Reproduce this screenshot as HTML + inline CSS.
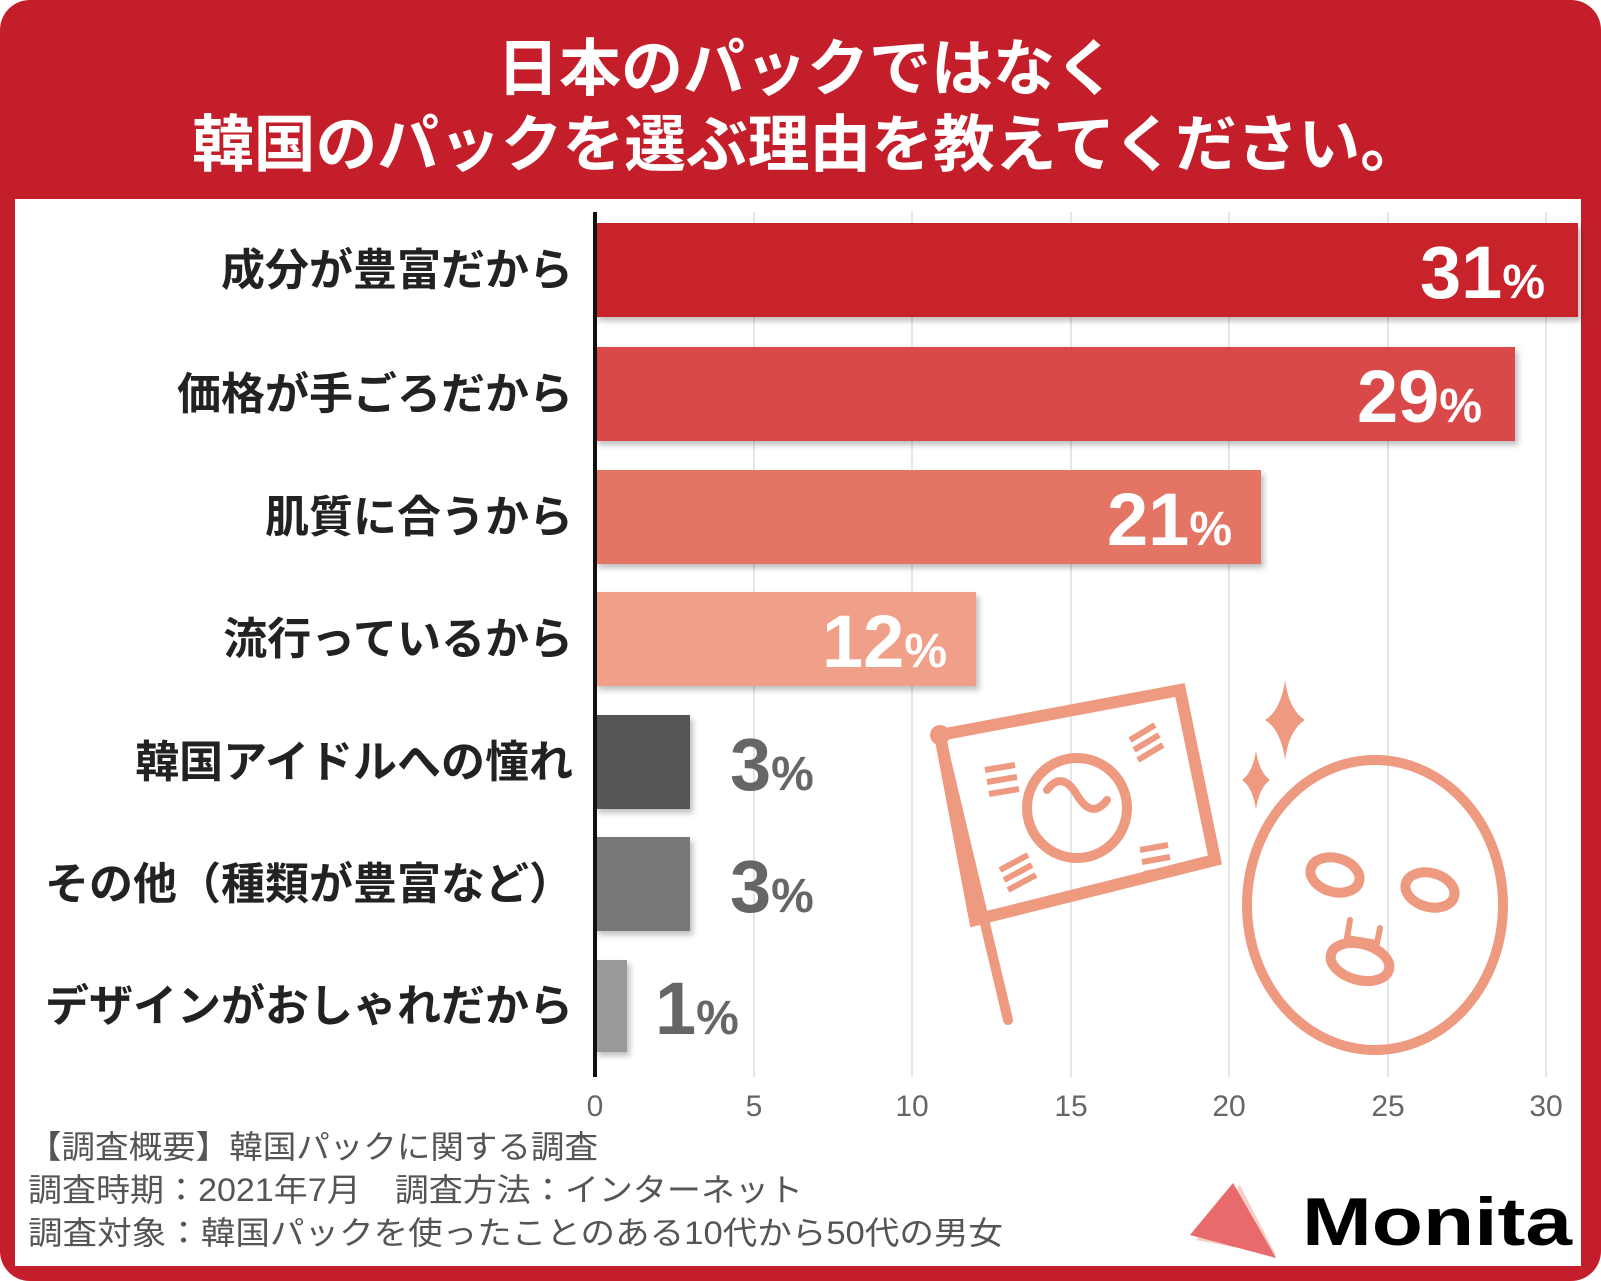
<!DOCTYPE html>
<html><head><meta charset="utf-8"><style>
html,body{margin:0;padding:0;background:#fff}
svg{display:block}
text{font-family:"Liberation Sans","Noto Sans CJK JP",sans-serif}
</style></head><body>
<svg width="1601" height="1281" viewBox="0 0 1601 1281" xmlns="http://www.w3.org/2000/svg">
<defs><filter id="sh" x="-5%" y="-5%" width="115%" height="130%"><feDropShadow dx="3" dy="4" stdDeviation="3" flood-color="#000" flood-opacity="0.25"/></filter></defs>
<rect x="0" y="0" width="1601" height="1281" rx="30" fill="#c41e2a"/>
<rect x="15" y="199" width="1566" height="1067" fill="#fff"/>
<text x="807" y="90" text-anchor="middle" font-size="62" font-weight="bold" fill="#fff">日本のパックではなく</text>
<text x="807" y="166" text-anchor="middle" font-size="62" font-weight="bold" fill="#fff" textLength="1230" lengthAdjust="spacingAndGlyphs">韓国のパックを選ぶ理由を教えてください。</text>
<g stroke="#ddd" stroke-width="1.5">
<line x1="754" y1="212" x2="754" y2="1077"/><line x1="912" y1="212" x2="912" y2="1077"/><line x1="1071" y1="212" x2="1071" y2="1077"/><line x1="1229" y1="212" x2="1229" y2="1077"/><line x1="1388" y1="212" x2="1388" y2="1077"/><line x1="1546" y1="212" x2="1546" y2="1077"/>
</g>
<g filter="url(#sh)">
<rect x="595" y="223" width="983" height="94" fill="#c8202c"/>
<rect x="595" y="347" width="920" height="94" fill="#d9484a"/>
<rect x="595" y="470" width="666" height="94" fill="#e47565"/>
<rect x="595" y="592" width="381" height="94" fill="#f0a088"/>
<rect x="595" y="715" width="95" height="94" fill="#555"/>
<rect x="595" y="837" width="95" height="94" fill="#777"/>
<rect x="595" y="960" width="32" height="92" fill="#999"/>
</g>
<line x1="595" y1="212" x2="595" y2="1077" stroke="#111" stroke-width="4"/>
<g font-size="44" font-weight="bold" fill="#222" text-anchor="end">
<text x="573" y="285">成分が豊富だから</text>
<text x="573" y="409">価格が手ごろだから</text>
<text x="573" y="532">肌質に合うから</text>
<text x="573" y="654">流行っているから</text>
<text x="573" y="777">韓国アイドルへの憧れ</text>
<text x="573" y="899">その他（種類が豊富など）</text>
<text x="573" y="1021">デザインがおしゃれだから</text>
</g>
<g font-weight="bold" fill="#fff" text-anchor="end">
<text x="1545" y="298" font-size="74">31<tspan font-size="48">%</tspan></text>
<text x="1482" y="422" font-size="74">29<tspan font-size="48">%</tspan></text>
<text x="1232" y="545" font-size="74">21<tspan font-size="48">%</tspan></text>
<text x="947" y="667" font-size="74">12<tspan font-size="48">%</tspan></text>
</g>
<g font-weight="bold" fill="#666">
<text x="730" y="790" font-size="74">3<tspan font-size="48">%</tspan></text>
<text x="730" y="912" font-size="74">3<tspan font-size="48">%</tspan></text>
<text x="655" y="1034" font-size="74">1<tspan font-size="48">%</tspan></text>
</g>
<g font-size="30" fill="#666" text-anchor="middle">
<text x="595" y="1116">0</text><text x="754" y="1116">5</text><text x="912" y="1116">10</text><text x="1071" y="1116">15</text><text x="1229" y="1116">20</text><text x="1388" y="1116">25</text><text x="1546" y="1116">30</text>
</g>
<g font-size="32" fill="#555">
<text x="28" y="1158" textLength="570" lengthAdjust="spacingAndGlyphs">【調査概要】韓国パックに関する調査</text>
<text x="28" y="1201" textLength="775" lengthAdjust="spacingAndGlyphs">調査時期：2021年7月　調査方法：インターネット</text>
<text x="28" y="1244" textLength="975" lengthAdjust="spacingAndGlyphs">調査対象：韓国パックを使ったことのある10代から50代の男女</text>
</g>
<g stroke="#ee9a80" fill="none" stroke-width="10" stroke-linecap="round">
<line x1="940" y1="735" x2="1008" y2="1020"/>
<polygon points="940,735 1180,690 1215,860 975,920" stroke-width="12"/>
<circle cx="1077" cy="808" r="50"/>
<path d="M1047,790 q15,-20 30,5 q15,25 30,5" stroke-width="8"/>
<ellipse cx="1375" cy="905" rx="128" ry="145"/>
<ellipse cx="1335" cy="875" rx="25" ry="17" transform="rotate(15 1335 875)"/>
<ellipse cx="1430" cy="890" rx="25" ry="17" transform="rotate(15 1430 890)"/>
<ellipse cx="1360" cy="962" rx="30" ry="18" transform="rotate(15 1360 962)"/>
<path d="M1350,920 l-3,18 l30,5 l3,-15" stroke-width="6"/>
</g>
<circle cx="940" cy="735" r="10" fill="#ee9a80"/>
<g stroke="#ee9a80" stroke-width="6">
<path d="M985,770 l30,-5 M987,782 l30,-5 M989,794 l30,-5"/>
<path d="M1130,740 l25,-15 M1134,750 l25,-15 M1138,760 l25,-15"/>
<path d="M1000,870 l28,-15 M1004,880 l28,-15 M1008,890 l28,-15"/>
<path d="M1140,850 l28,-5 M1142,862 l28,-5 M1144,874 l28,-5"/>
</g>
<path d="M1285,680 q4,30 20,40 q-16,10 -20,40 q-4,-30 -20,-40 q16,-10 20,-40z" fill="#ee9a80"/>
<path d="M1256,750 q3,22 14,30 q-11,8 -14,30 q-3,-22 -14,-30 q11,-8 14,-30z" fill="#ee9a80"/>
<polygon points="1240,1185 1196,1240 1276,1255" fill="#f5d0c8"/>
<polygon points="1233,1183 1190,1235 1276,1258" fill="#e86a6a"/>
<text x="1302" y="1245" font-size="68" font-weight="bold" fill="#000" textLength="270" lengthAdjust="spacingAndGlyphs">Monita</text>
</svg>
</body></html>
